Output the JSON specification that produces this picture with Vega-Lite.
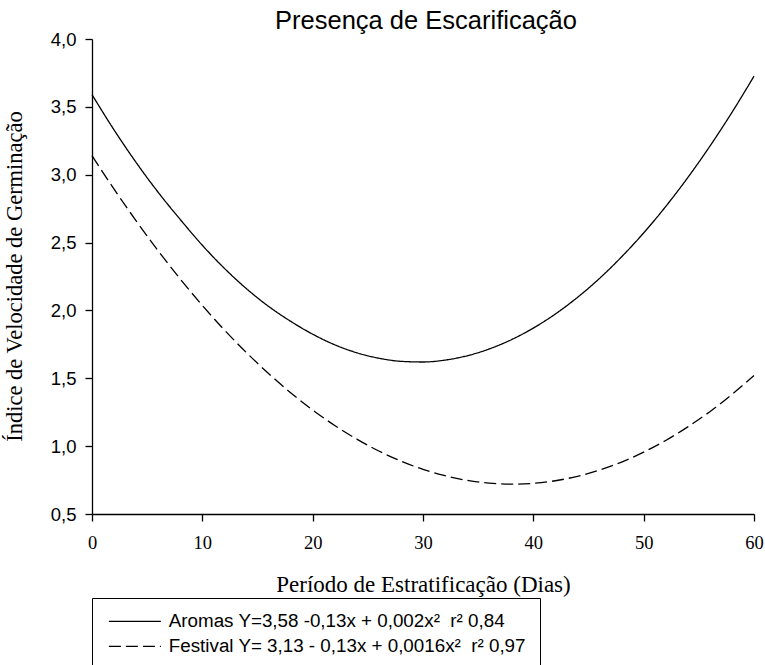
{
  "$schema": "https://vega.github.io/schema/vega-lite/v6.json",
  "autosize": {"type": "none"},
  "padding": {"left": 92, "top": 39, "right": 11, "bottom": 151},
  "width": 662,
  "height": 475,
  "background": "white",
  "title": {
    "text": "Presença de Escarificação",
    "font": "Liberation Sans",
    "fontSize": 25.5,
    "fontWeight": "normal",
    "color": "black",
    "anchor": "middle",
    "baseline": "alphabetic",
    "offset": 6,
    "dx": 3,
    "dy": 30
  },
  "data": {
    "values": [
      {"x": 0, "y": 3.59, "s": "Aromas Y=3,58 -0,13x + 0,002x² \u00a0r² 0,84"},
      {"x": 2, "y": 3.33, "s": "Aromas Y=3,58 -0,13x + 0,002x² \u00a0r² 0,84"},
      {"x": 4, "y": 3.09, "s": "Aromas Y=3,58 -0,13x + 0,002x² \u00a0r² 0,84"},
      {"x": 6, "y": 2.87, "s": "Aromas Y=3,58 -0,13x + 0,002x² \u00a0r² 0,84"},
      {"x": 8, "y": 2.67, "s": "Aromas Y=3,58 -0,13x + 0,002x² \u00a0r² 0,84"},
      {"x": 10, "y": 2.48, "s": "Aromas Y=3,58 -0,13x + 0,002x² \u00a0r² 0,84"},
      {"x": 12, "y": 2.31, "s": "Aromas Y=3,58 -0,13x + 0,002x² \u00a0r² 0,84"},
      {"x": 14, "y": 2.16, "s": "Aromas Y=3,58 -0,13x + 0,002x² \u00a0r² 0,84"},
      {"x": 16, "y": 2.03, "s": "Aromas Y=3,58 -0,13x + 0,002x² \u00a0r² 0,84"},
      {"x": 18, "y": 1.92, "s": "Aromas Y=3,58 -0,13x + 0,002x² \u00a0r² 0,84"},
      {"x": 20, "y": 1.825, "s": "Aromas Y=3,58 -0,13x + 0,002x² \u00a0r² 0,84"},
      {"x": 22, "y": 1.747, "s": "Aromas Y=3,58 -0,13x + 0,002x² \u00a0r² 0,84"},
      {"x": 24, "y": 1.688, "s": "Aromas Y=3,58 -0,13x + 0,002x² \u00a0r² 0,84"},
      {"x": 26, "y": 1.648, "s": "Aromas Y=3,58 -0,13x + 0,002x² \u00a0r² 0,84"},
      {"x": 28, "y": 1.625, "s": "Aromas Y=3,58 -0,13x + 0,002x² \u00a0r² 0,84"},
      {"x": 30, "y": 1.62, "s": "Aromas Y=3,58 -0,13x + 0,002x² \u00a0r² 0,84"},
      {"x": 32, "y": 1.634, "s": "Aromas Y=3,58 -0,13x + 0,002x² \u00a0r² 0,84"},
      {"x": 34, "y": 1.666, "s": "Aromas Y=3,58 -0,13x + 0,002x² \u00a0r² 0,84"},
      {"x": 36, "y": 1.716, "s": "Aromas Y=3,58 -0,13x + 0,002x² \u00a0r² 0,84"},
      {"x": 38, "y": 1.784, "s": "Aromas Y=3,58 -0,13x + 0,002x² \u00a0r² 0,84"},
      {"x": 40, "y": 1.87, "s": "Aromas Y=3,58 -0,13x + 0,002x² \u00a0r² 0,84"},
      {"x": 42, "y": 1.974, "s": "Aromas Y=3,58 -0,13x + 0,002x² \u00a0r² 0,84"},
      {"x": 44, "y": 2.096, "s": "Aromas Y=3,58 -0,13x + 0,002x² \u00a0r² 0,84"},
      {"x": 46, "y": 2.236, "s": "Aromas Y=3,58 -0,13x + 0,002x² \u00a0r² 0,84"},
      {"x": 48, "y": 2.395, "s": "Aromas Y=3,58 -0,13x + 0,002x² \u00a0r² 0,84"},
      {"x": 50, "y": 2.571, "s": "Aromas Y=3,58 -0,13x + 0,002x² \u00a0r² 0,84"},
      {"x": 52, "y": 2.766, "s": "Aromas Y=3,58 -0,13x + 0,002x² \u00a0r² 0,84"},
      {"x": 54, "y": 2.979, "s": "Aromas Y=3,58 -0,13x + 0,002x² \u00a0r² 0,84"},
      {"x": 56, "y": 3.21, "s": "Aromas Y=3,58 -0,13x + 0,002x² \u00a0r² 0,84"},
      {"x": 58, "y": 3.459, "s": "Aromas Y=3,58 -0,13x + 0,002x² \u00a0r² 0,84"},
      {"x": 60, "y": 3.726, "s": "Aromas Y=3,58 -0,13x + 0,002x² \u00a0r² 0,84"},
      {"x": 0, "y": 3.14, "s": "Festival Y= 3,13 - 0,13x + 0,0016x² \u00a0r² 0,97"},
      {"x": 2, "y": 2.894, "s": "Festival Y= 3,13 - 0,13x + 0,0016x² \u00a0r² 0,97"},
      {"x": 4, "y": 2.66, "s": "Festival Y= 3,13 - 0,13x + 0,0016x² \u00a0r² 0,97"},
      {"x": 6, "y": 2.439, "s": "Festival Y= 3,13 - 0,13x + 0,0016x² \u00a0r² 0,97"},
      {"x": 8, "y": 2.231, "s": "Festival Y= 3,13 - 0,13x + 0,0016x² \u00a0r² 0,97"},
      {"x": 10, "y": 2.037, "s": "Festival Y= 3,13 - 0,13x + 0,0016x² \u00a0r² 0,97"},
      {"x": 12, "y": 1.856, "s": "Festival Y= 3,13 - 0,13x + 0,0016x² \u00a0r² 0,97"},
      {"x": 14, "y": 1.689, "s": "Festival Y= 3,13 - 0,13x + 0,0016x² \u00a0r² 0,97"},
      {"x": 16, "y": 1.535, "s": "Festival Y= 3,13 - 0,13x + 0,0016x² \u00a0r² 0,97"},
      {"x": 18, "y": 1.394, "s": "Festival Y= 3,13 - 0,13x + 0,0016x² \u00a0r² 0,97"},
      {"x": 20, "y": 1.266, "s": "Festival Y= 3,13 - 0,13x + 0,0016x² \u00a0r² 0,97"},
      {"x": 22, "y": 1.152, "s": "Festival Y= 3,13 - 0,13x + 0,0016x² \u00a0r² 0,97"},
      {"x": 24, "y": 1.052, "s": "Festival Y= 3,13 - 0,13x + 0,0016x² \u00a0r² 0,97"},
      {"x": 26, "y": 0.964, "s": "Festival Y= 3,13 - 0,13x + 0,0016x² \u00a0r² 0,97"},
      {"x": 28, "y": 0.89, "s": "Festival Y= 3,13 - 0,13x + 0,0016x² \u00a0r² 0,97"},
      {"x": 30, "y": 0.829, "s": "Festival Y= 3,13 - 0,13x + 0,0016x² \u00a0r² 0,97"},
      {"x": 32, "y": 0.782, "s": "Festival Y= 3,13 - 0,13x + 0,0016x² \u00a0r² 0,97"},
      {"x": 34, "y": 0.748, "s": "Festival Y= 3,13 - 0,13x + 0,0016x² \u00a0r² 0,97"},
      {"x": 36, "y": 0.727, "s": "Festival Y= 3,13 - 0,13x + 0,0016x² \u00a0r² 0,97"},
      {"x": 38, "y": 0.72, "s": "Festival Y= 3,13 - 0,13x + 0,0016x² \u00a0r² 0,97"},
      {"x": 40, "y": 0.726, "s": "Festival Y= 3,13 - 0,13x + 0,0016x² \u00a0r² 0,97"},
      {"x": 42, "y": 0.745, "s": "Festival Y= 3,13 - 0,13x + 0,0016x² \u00a0r² 0,97"},
      {"x": 44, "y": 0.778, "s": "Festival Y= 3,13 - 0,13x + 0,0016x² \u00a0r² 0,97"},
      {"x": 46, "y": 0.824, "s": "Festival Y= 3,13 - 0,13x + 0,0016x² \u00a0r² 0,97"},
      {"x": 48, "y": 0.883, "s": "Festival Y= 3,13 - 0,13x + 0,0016x² \u00a0r² 0,97"},
      {"x": 50, "y": 0.956, "s": "Festival Y= 3,13 - 0,13x + 0,0016x² \u00a0r² 0,97"},
      {"x": 52, "y": 1.042, "s": "Festival Y= 3,13 - 0,13x + 0,0016x² \u00a0r² 0,97"},
      {"x": 54, "y": 1.142, "s": "Festival Y= 3,13 - 0,13x + 0,0016x² \u00a0r² 0,97"},
      {"x": 56, "y": 1.254, "s": "Festival Y= 3,13 - 0,13x + 0,0016x² \u00a0r² 0,97"},
      {"x": 58, "y": 1.381, "s": "Festival Y= 3,13 - 0,13x + 0,0016x² \u00a0r² 0,97"},
      {"x": 60, "y": 1.52, "s": "Festival Y= 3,13 - 0,13x + 0,0016x² \u00a0r² 0,97"}
    ]
  },
  "mark": {"type": "line", "interpolate": "monotone", "color": "black", "strokeWidth": 1.3},
  "encoding": {
    "x": {
      "field": "x",
      "type": "quantitative",
      "scale": {"domain": [0, 60], "nice": false},
      "axis": {
        "title": "Período de Estratificação (Dias)",
        "values": [0, 10, 20, 30, 40, 50, 60],
        "titleFont": "Liberation Serif",
        "titleFontSize": 23,
        "titleFontWeight": "normal",
        "titleBaseline": "alphabetic",
        "titleX": 331,
        "titleY": 77,
        "labelFont": "Liberation Serif",
        "labelFontSize": 18.5,
        "labelPadding": 12,
        "labelFlush": false
      }
    },
    "y": {
      "field": "y",
      "type": "quantitative",
      "scale": {"domain": [0.5, 4], "nice": false, "zero": false},
      "axis": {
        "title": "Índice de Velocidade de Germinação",
        "values": [0.5, 1, 1.5, 2, 2.5, 3, 3.5, 4],
        "labelExpr": "replace(format(datum.value, '.1f'), '.', ',')",
        "titleFont": "Liberation Serif",
        "titleFontSize": 22.5,
        "titleFontWeight": "normal",
        "titleAngle": -90,
        "titleBaseline": "alphabetic",
        "titleX": -71,
        "titleY": 237,
        "labelFont": "Liberation Sans",
        "labelFontSize": 18.5,
        "labelPadding": 9,
        "labelFlush": false
      }
    },
    "strokeDash": {
      "field": "s",
      "type": "nominal",
      "scale": {"range": [[1, 0], [12, 5]]},
      "legend": {
        "title": null,
        "orient": "none",
        "legendX": 0,
        "legendY": 559,
        "padding": 14,
        "strokeColor": "black",
        "fillColor": "white",
        "symbolType": "M-1,0H7",
        "symbolSize": 169,
        "symbolStrokeWidth": 1.3,
        "symbolStrokeColor": "black",
        "symbolFillColor": "transparent",
        "labelFont": "Liberation Sans",
        "labelFontSize": 18.8,
        "labelColor": "black",
        "labelOffset": 44,
        "labelLimit": 700,
        "rowPadding": 5,
        "labelExpr": "datum.label + '\u00a0\u00a0\u00a0\u00a0'"
      }
    }
  },
  "config": {
    "view": {"stroke": null},
    "axis": {
      "grid": false,
      "domainColor": "black",
      "domainWidth": 1.3,
      "tickColor": "black",
      "tickWidth": 1.3,
      "tickSize": 7,
      "labelColor": "black",
      "titleColor": "black"
    }
  }
}
